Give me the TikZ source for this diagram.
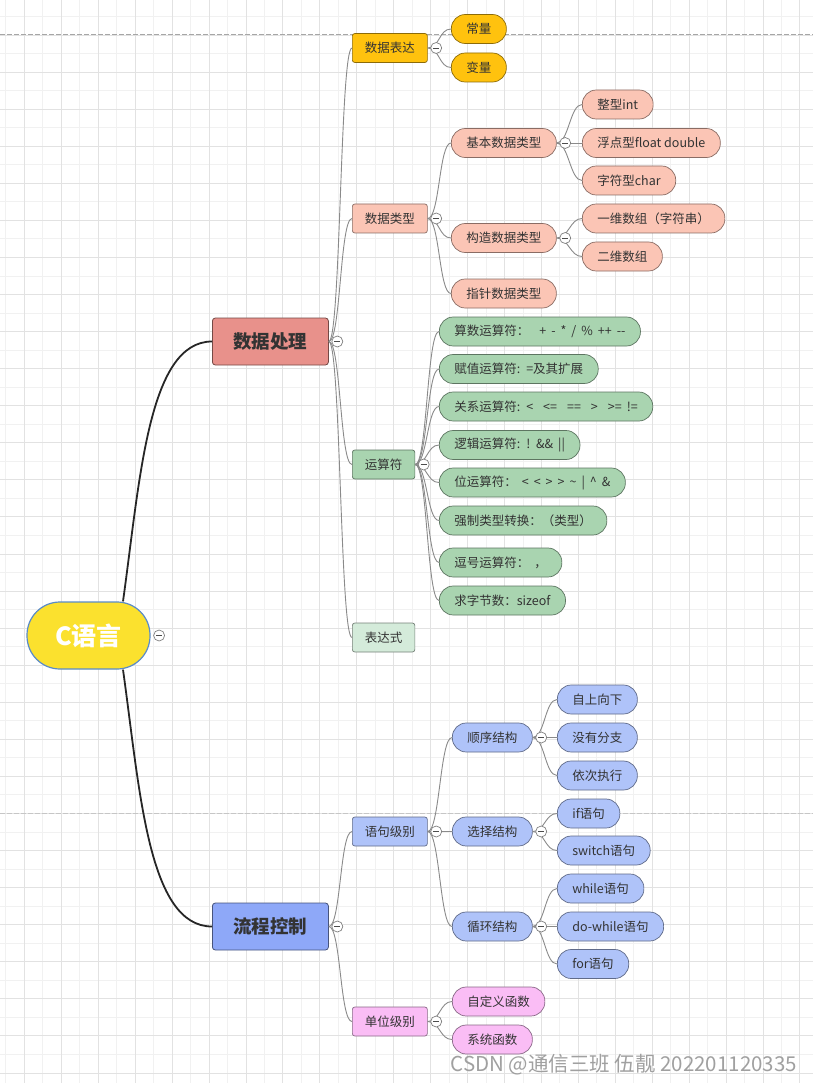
\documentclass[tikz,border=0pt]{standalone}
\usepackage{fontspec}
\setmainfont{Noto Sans CJK SC}
\usepackage{xcolor}
\usepackage{tikz}

\definecolor{txt}{HTML}{333333}
\definecolor{rootfill}{HTML}{FBE12E}
\definecolor{rootline}{HTML}{5A8BC8}
\definecolor{redmain}{HTML}{E8918B}
\definecolor{bluemain}{HTML}{8EA8F8}
\definecolor{ambr}{HTML}{FFC20E}
\definecolor{salm}{HTML}{FBC5B5}
\definecolor{opgreen}{HTML}{A9D4B0}
\definecolor{palegreen}{HTML}{D4EBDA}
\definecolor{peri}{HTML}{AFC3F9}
\definecolor{pinkc}{HTML}{FABDF5}
\definecolor{linkgray}{HTML}{8A8A8A}
\definecolor{majorgrid}{HTML}{E2E2E2}
\definecolor{minorgrid}{HTML}{F1F1F1}
\definecolor{markgray}{HTML}{A0A0A0}

\newcommand\nodefont{\fontsize{12.5pt}{15pt}\selectfont}
\newcommand\opfont{\fontsize{12.5pt}{15pt}\selectfont\spaceskip=5pt\relax}
\newcommand\bigfont{\fontsize{18.5pt}{22pt}\selectfont\bfseries}
\newcommand\rootfont{\fontsize{25pt}{30pt}\selectfont\bfseries}
\newcommand\markfont{\fontsize{20.5pt}{24pt}\selectfont}
\newcommand\foldmark[1]{%
  \draw[fold] ([xshift=8.5pt]#1.east) circle[radius=5.5pt];
  \draw[foldbar] ([xshift=5.5pt]#1.east) -- ([xshift=11.5pt]#1.east);}

\begin{document}
\begin{tikzpicture}[x=1pt, y=-1pt,
    every node/.style={font=\nodefont, text=txt},
    rootbox/.style = {rectangle, draw=rootline, fill=rootfill, line width=1.2pt,
                      rounded corners=33pt, minimum width=123pt, minimum height=67pt,
                      font=\rootfont, text=white},
    mainbox/.style = {rectangle, draw=#1!50!black, fill=#1, line width=0.8pt,
                      rounded corners=3pt, minimum width=116pt, minimum height=47pt,
                      anchor=west, font=\bigfont},
    topicbox/.style = {rectangle, draw=#1!55!black, fill=#1, line width=0.7pt,
                       rounded corners=2.5pt, minimum height=29pt, inner xsep=12.5pt,
                       anchor=west},
    leafbox/.style = {rectangle, draw=#1!55!black, fill=#1, line width=0.7pt,
                      rounded corners=14pt, minimum height=29pt, inner xsep=15pt,
                      anchor=west},
    opbox/.style = {leafbox=opgreen, font=\opfont},
    trunk/.style = {draw=black!85, line width=1.8pt},
    link/.style = {draw=linkgray, line width=0.9pt},
    branch/.style = {out=0, in=180, distance=12pt},
    fold/.style = {draw=gray, fill=white, line width=0.7pt},
    foldbar/.style = {draw=black!70, line width=0.8pt},
    pagebreak/.style = {draw=gray!70, line width=0.8pt, dash pattern=on 5pt off 2pt}
]
\useasboundingbox (0,0) rectangle (813,1083);
\fill[white] (0,0) rectangle (813,1083);

% grid paper
\foreach \k in {-1,...,20}
  \draw[minorgrid, line width=0.7pt] ({24.3+36.93*(\k+0.5)},0) -- ++(0,1083);
\foreach \k in {-1,...,27}
  \draw[minorgrid, line width=0.7pt] (0,{34.9+37.07*(\k+0.5)}) -- ++(813,0);
\foreach \k in {0,...,21}
  \draw[majorgrid, line width=0.7pt] ({24.3+36.93*\k},0) -- ++(0,1083);
\foreach \k in {0,...,28}
  \draw[majorgrid, line width=0.7pt] (0,{34.9+37.07*\k}) -- ++(813,0);
\draw[pagebreak] (0,34.5) -- (813,34.5);
\draw[pagebreak, draw=gray!45] (0,813.5) -- (813,813.5);

% root and main topics
\node (root) [rootbox] at (88.5,635.5) {C语言};
\node (data) [mainbox=redmain] at (212,341.5) {数据处理};
\node (flow) [mainbox=bluemain] at (212,926.5) {流程控制};

% data side
\node (expr) [topicbox=ambr] at (352,48) {数据表达};
\node (dtype) [topicbox=salm] at (352,218.5) {数据类型};
\node (oper) [topicbox=opgreen] at (352,464.5) {运算符};
\node (exprs) [topicbox=palegreen] at (352,637.5) {表达式};

\node (const) [leafbox=ambr] at (451,29) {常量};
\node (var) [leafbox=ambr] at (451,67.5) {变量};
\node (basic) [leafbox=salm] at (451,143) {基本数据类型};
\node (compound) [leafbox=salm] at (451,238) {构造数据类型};
\node (pointer) [leafbox=salm] at (451,293.5) {指针数据类型};
\node (int) [leafbox=salm] at (582,104.5) {整型int};
\node (float) [leafbox=salm] at (582,143) {浮点型float double};
\node (char) [leafbox=salm] at (582,180.5) {字符型char};
\node (arr1) [leafbox=salm] at (582,218.5) {一维数组（字符串）};
\node (arr2) [leafbox=salm] at (582,256.5) {二维数组};

\node (arith) [opbox] at (439,331.5) {算数运算符：\ \ + - * / \% ++ -{}-};
\node (assign) [opbox] at (439,369) {赋值运算符: =及其扩展};
\node (relat) [opbox] at (439,406.5) {关系运算符: <\ \ <=\ \ ==\ \ >\ \ >= !=};
\node (logic) [opbox] at (439,445) {逻辑运算符: ! \&\& ||};
\node (bitop) [opbox] at (439,482.5) {位运算符：\ < < > > \textasciitilde{} | \textasciicircum{} \&};
\node (cast) [opbox] at (439,520.5) {强制类型转换：（类型）};
\node (comma) [opbox] at (439,562.5) {逗号运算符：\ ，};
\node (sizeof) [opbox] at (439,600.5) {求字节数：sizeof};

% flow side
\node (stmt) [topicbox=peri] at (352,831.5) {语句级别};
\node (unit) [topicbox=pinkc] at (352,1021.5) {单位级别};

\node (seq) [leafbox=peri] at (452,737.5) {顺序结构};
\node (select) [leafbox=peri] at (452,831.5) {选择结构};
\node (loop) [leafbox=peri] at (452,926.5) {循环结构};
\node (topdown) [leafbox=peri] at (557,699.5) {自上向下};
\node (nobranch) [leafbox=peri] at (557,737.5) {没有分支};
\node (inorder) [leafbox=peri] at (557,775.5) {依次执行};
\node (ifst) [leafbox=peri] at (557,813.5) {if语句};
\node (switchst) [leafbox=peri] at (557,850.5) {switch语句};
\node (whilest) [leafbox=peri] at (557,888.5) {while语句};
\node (dowhilest) [leafbox=peri] at (557,926.5) {do-while语句};
\node (forst) [leafbox=peri] at (557,964) {for语句};
\node (userfn) [leafbox=pinkc] at (452,1001.5) {自定义函数};
\node (sysfn) [leafbox=pinkc] at (452,1039.5) {系统函数};

\node (mark) [anchor=west, font=\markfont, text=markgray] at (447,1065) {CSDN @通信三班 伍靓 202201120335};

% connectors
\draw[trunk] ([xshift=34.5pt]root.north) .. controls (140,480) and (148,341.5) .. (data.west);
\draw[trunk] ([xshift=34.5pt]root.south) .. controls (140,791) and (148,926.5) .. (flow.west);

\draw[link] (data.east) to[branch] (expr.west);
\draw[link] (data.east) to[branch] (dtype.west);
\draw[link] (data.east) to[branch] (oper.west);
\draw[link] (data.east) to[branch] (exprs.west);
\draw[link] (expr.east) to[branch] (const.west);
\draw[link] (expr.east) to[branch] (var.west);
\draw[link] (dtype.east) to[branch] (basic.west);
\draw[link] (dtype.east) to[branch] (compound.west);
\draw[link] (dtype.east) to[branch] (pointer.west);
\draw[link] (basic.east) to[branch] (int.west);
\draw[link] (basic.east) to[branch] (float.west);
\draw[link] (basic.east) to[branch] (char.west);
\draw[link] (compound.east) to[branch] (arr1.west);
\draw[link] (compound.east) to[branch] (arr2.west);
\draw[link] (oper.east) to[branch] (arith.west);
\draw[link] (oper.east) to[branch] (assign.west);
\draw[link] (oper.east) to[branch] (relat.west);
\draw[link] (oper.east) to[branch] (logic.west);
\draw[link] (oper.east) to[branch] (bitop.west);
\draw[link] (oper.east) to[branch] (cast.west);
\draw[link] (oper.east) to[branch] (comma.west);
\draw[link] (oper.east) to[branch] (sizeof.west);

\draw[link] (flow.east) to[branch] (stmt.west);
\draw[link] (flow.east) to[branch] (unit.west);
\draw[link] (stmt.east) to[branch] (seq.west);
\draw[link] (stmt.east) to[branch] (select.west);
\draw[link] (stmt.east) to[branch] (loop.west);
\draw[link] (seq.east) to[branch] (topdown.west);
\draw[link] (seq.east) to[branch] (nobranch.west);
\draw[link] (seq.east) to[branch] (inorder.west);
\draw[link] (select.east) to[branch] (ifst.west);
\draw[link] (select.east) to[branch] (switchst.west);
\draw[link] (loop.east) to[branch] (whilest.west);
\draw[link] (loop.east) to[branch] (dowhilest.west);
\draw[link] (loop.east) to[branch] (forst.west);
\draw[link] (unit.east) to[branch] (userfn.west);
\draw[link] (unit.east) to[branch] (sysfn.west);

% collapse marks
\foldmark{root}
\foldmark{data}
\foldmark{flow}
\foldmark{expr}
\foldmark{dtype}
\foldmark{oper}
\foldmark{basic}
\foldmark{compound}
\foldmark{stmt}
\foldmark{unit}
\foldmark{seq}
\foldmark{select}
\foldmark{loop}

\end{tikzpicture}
\end{document}
